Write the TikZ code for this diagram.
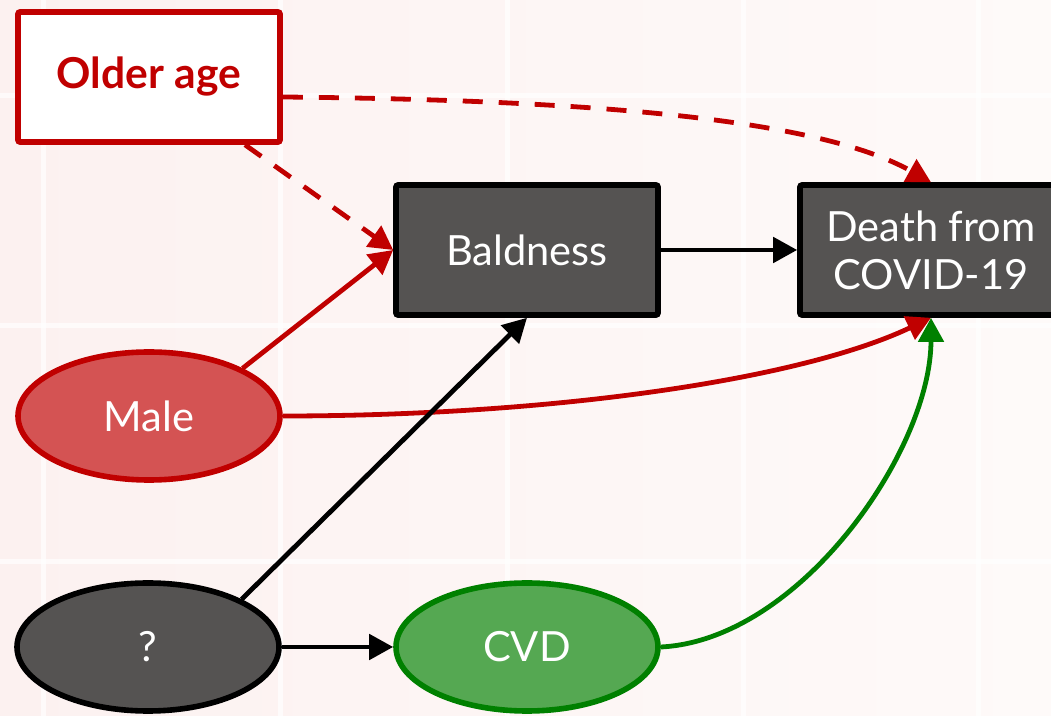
\documentclass[tikz,border=0pt]{standalone}
\usepackage{fontspec}
\setmainfont{Lato}
\usetikzlibrary{arrows.meta,shapes.geometric}

\definecolor{dred}{HTML}{C00000}
\definecolor{mred}{HTML}{D45353}
\definecolor{dgray}{HTML}{555352}
\definecolor{dgreen}{HTML}{008000}
\definecolor{mgreen}{HTML}{55A852}
\definecolor{bgleft}{HTML}{FCF1F0}
\definecolor{bgright}{HTML}{FEFAF9}

\tikzset{
  every node/.style={font=\fontsize{20.8pt}{24pt}\selectfont},
  boxnode/.style={rectangle, rounded corners=1pt, line width=2.8pt,
    minimum width=131pt, minimum height=65pt, align=center},
  ovalnode/.style={ellipse, line width=2.8pt, inner sep=0pt,
    minimum width=131pt, minimum height=64pt},
  link/.style={line width=2.4pt, -{Triangle[length=12pt,width=12.5pt]}},
  dashlink/.style={link, dash pattern=on 10pt off 8pt},
  gridline/.style={white, line width=2.5pt, opacity=0.7}
}

\begin{document}
\begin{tikzpicture}[x=0.5pt,y=-0.5pt]
  % canvas and faint tiled backdrop
  \useasboundingbox (0,0) rectangle (1051,716);
  \shade[left color=bgleft, right color=bgright] (0,0) rectangle (1051,716);
  \foreach \gx in {43,280,507,743,978}
    \draw[gridline] (\gx,0) -- (\gx,716);
  \foreach \gy in {96,326,562}
    \draw[gridline] (0,\gy) -- (1051,\gy);

  % variables
  \node[boxnode, draw=dred, fill=white, text=dred,
        font=\fontsize{21.3pt}{24pt}\selectfont\bfseries] (older) at (149,77) {Older age};
  \node[boxnode, draw=black, fill=dgray, text=white] (bald) at (527,250) {Baldness};
  \node[boxnode, draw=black, fill=dgray, text=white] (death) at (931,250) {Death from\\COVID-19};
  \node[ovalnode, draw=dred, fill=mred, text=white] (male) at (149,416) {Male};
  \node[ovalnode, draw=black, fill=dgray, text=white] (unk) at (148,647) {?};
  \node[ovalnode, draw=dgreen, fill=mgreen, text=white] (cvd) at (527,647) {CVD};

  % causal paths
  \draw[dashlink, dred] ([xshift=48pt]older.south) -- (bald.west);
  \draw[dashlink, dred] ([yshift=-10pt]older.east)
    .. controls (600,100) and (820,120) .. (death.north);
  \draw[link, dred] (male.27) -- (bald.west);
  \draw[link, dred] (male.east)
    .. controls (550,416) and (800,380) .. (death.south);
  \draw[link, black] (bald.east) -- (death.west);
  \draw[link, black] (unk.27) -- (bald.south);
  \draw[link, black] (unk.east) -- (cvd.west);
  \draw[link, dgreen] (cvd.east)
    .. controls (800,640) and (931,450) .. (death.south);
\end{tikzpicture}
\end{document}
